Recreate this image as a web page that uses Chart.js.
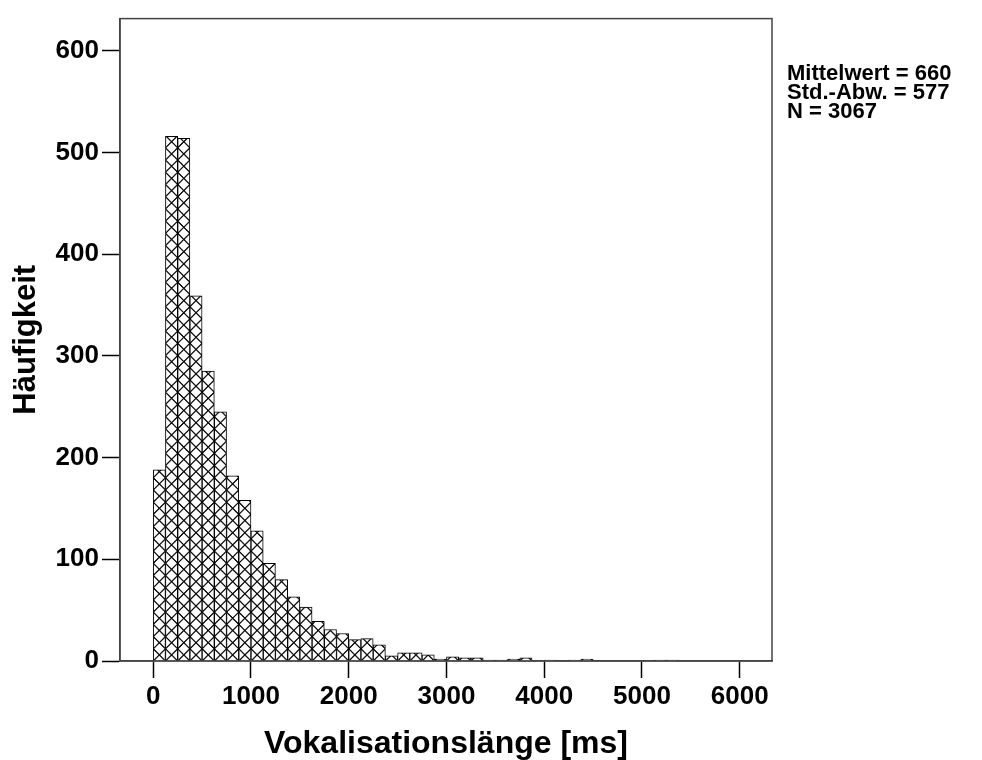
<!DOCTYPE html>
<html>
<head>
<meta charset="utf-8">
<script src="https://cdn.jsdelivr.net/npm/chart.js@4.4.1/dist/chart.umd.min.js"></script>
<style>
    body { margin: 0; background: #fff; }
    canvas { display: block; }
</style>
</head>
<body>
<canvas id="myChart" width="982" height="760"></canvas>
<script>
// bin width in ms, histogram counts per bin starting at 0 ms
const binWidth = 125;
const counts = [
    188, 516, 514, 359, 285, 245, 182, 158, 128, 96,
    80, 63, 53, 39, 31, 27, 21, 22, 16, 5,
    8, 8, 6, 2, 4, 3, 3, 1, 1, 2,
    3, 0, 1, 0, 1, 2, 0, 0, 0, 0,
    0, 1, 1
];
const xTicks = [0, 1000, 2000, 3000, 4000, 5000, 6000];
const yTicks = [0, 100, 200, 300, 400, 500, 600];
const statsLines = ['Mittelwert = 660', 'Std.-Abw. = 577', 'N = 3067'];

const ctx = document.getElementById('myChart');

// cross hatch tile, one tile = one bin
const TILE = 24;
const tile = document.createElement('canvas');
tile.width = TILE;
tile.height = TILE;
const tctx = tile.getContext('2d');
tctx.fillStyle = '#fff';
tctx.fillRect(0, 0, TILE, TILE);
tctx.strokeStyle = '#111';
tctx.lineWidth = 2.6;
tctx.beginPath();
tctx.moveTo(-2, -2); tctx.lineTo(TILE + 2, TILE + 2);
tctx.moveTo(TILE + 2, -2); tctx.lineTo(-2, TILE + 2);
tctx.stroke();
const hatch = ctx.getContext('2d').createPattern(tile, 'repeat');

const histData = counts.map((c, i) => ({ x: i * binWidth + binWidth / 2, y: c }));

const fontName = '"Liberation Sans", Arial, sans-serif';

const hatchAlign = {
    id: 'hatchAlign',
    beforeDatasetsDraw(chart) {
        const xs = chart.scales.x;
        const x0 = xs.getPixelForValue(0);
        const bw = xs.getPixelForValue(binWidth) - x0;
        const y0 = chart.scales.y.getPixelForValue(0);
        hatch.setTransform(new DOMMatrix().translate(x0, y0).scale(bw / TILE));
    }
};

const frameAndStats = {
    id: 'frameAndStats',
    afterDraw(chart) {
        const c = chart.ctx;
        const a = chart.chartArea;
        c.save();
        c.strokeStyle = '#444';
        c.lineWidth = 1.5;
        c.strokeRect(a.left, a.top, a.right - a.left, a.bottom - a.top);

        c.fillStyle = '#000';
        c.font = 'bold 22px ' + fontName;
        c.textBaseline = 'middle';
        statsLines.forEach((line, i) => {
            c.fillText(line, a.right + 15, 74 + i * 19);
        });
        c.restore();
    }
};

const myOptions = {
    responsive: false,
    animation: false,
    events: [],
    devicePixelRatio: 1,
    layout: {
        padding: { left: 0, top: 12, right: 210, bottom: 0 }
    },
    plugins: {
        legend: { display: false },
        tooltip: { enabled: false }
    },
    scales: {
        x: {
            type: 'linear',
            offset: false,
            min: -340,
            max: 6330,
            afterBuildTicks: (scale) => {
                scale.ticks = xTicks.map(v => ({ value: v }));
            },
            afterFit: (scale) => { scale.height = 99; },
            grid: {
                offset: false,
                drawOnChartArea: false,
                drawTicks: true,
                tickLength: 17,
                tickColor: '#000',
                tickWidth: 1.5
            },
            border: { display: true, color: '#444', width: 1.5 },
            ticks: {
                color: '#000',
                padding: 3,
                maxRotation: 0,
                callback: (v) => String(v),
                font: { family: fontName, size: 26, weight: 'bold' }
            },
            title: {
                display: true,
                text: 'Vokalisationslänge [ms]',
                color: '#000',
                padding: { top: 0, bottom: 0 },
                font: { family: fontName, size: 32, weight: 'bold', lineHeight: 1 }
            }
        },
        y: {
            min: 0,
            max: 631.7,
            afterBuildTicks: (scale) => {
                scale.ticks = yTicks.map(v => ({ value: v }));
            },
            afterFit: (scale) => { scale.width = 120; },
            grid: {
                drawOnChartArea: false,
                drawTicks: true,
                tickLength: 18,
                tickColor: '#000',
                tickWidth: 1.5
            },
            border: { display: true, color: '#444', width: 1.5 },
            ticks: {
                color: '#000',
                padding: 3,
                callback: (v) => String(v),
                font: { family: fontName, size: 26, weight: 'bold' }
            },
            title: {
                display: true,
                text: 'Häufigkeit',
                color: '#000',
                padding: { top: 11, bottom: 0 },
                font: { family: fontName, size: 31, weight: 'bold', lineHeight: 1 }
            }
        }
    }
};

const histChart = new Chart(ctx, {
    type: 'bar',
    data: {
        datasets: [{
            label: 'Häufigkeit',
            data: histData,
            backgroundColor: hatch,
            borderColor: '#000',
            borderWidth: 1,
            barPercentage: 1,
            categoryPercentage: 1
        }]
    },
    options: myOptions,
    plugins: [hatchAlign, frameAndStats]
});
</script>
</body>
</html>
